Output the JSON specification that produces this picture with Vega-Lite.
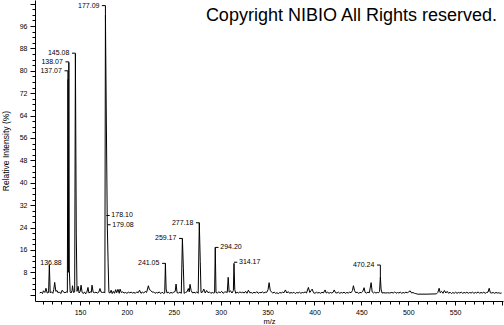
{
  "$schema": "https://vega.github.io/schema/vega-lite/v6.json",
  "width": 468,
  "height": 301,
  "autosize": {"type": "none"},
  "padding": {"left": 35, "top": 0, "right": 1, "bottom": 24},
  "background": "white",
  "config": {
    "view": {"stroke": null},
    "axis": {
      "grid": false,
      "domainColor": "black",
      "domainWidth": 1,
      "tickColor": "black",
      "tickWidth": 1,
      "labelColor": "black",
      "titleColor": "black",
      "labelFont": "Liberation Sans Narrow, Liberation Sans",
      "labelFontSize": 7,
      "titleFont": "Liberation Sans",
      "titleFontWeight": "normal",
      "labelOverlap": false,
      "labelBound": false,
      "labelFlush": false
    }
  },
  "title": {
    "text": "Copyright NIBIO All Rights reserved.",
    "anchor": "end",
    "frame": "group",
    "orient": "top",
    "offset": -39,
    "baseline": "alphabetic",
    "font": "Liberation Sans",
    "fontSize": 18,
    "fontWeight": "normal",
    "color": "black",
    "dx": -6
  },
  "datasets": {
    "spec": [
      {"mz":107.0,"i":0.6},{"mz":108.5,"i":0.9},{"mz":110.0,"i":0.4},{"mz":111.0,"i":1.4},{"mz":112.5,"i":0.8},{"mz":113.7,"i":2.3},{"mz":115.0,"i":0.6},{"mz":116.5,"i":0.8},{"mz":117.3,"i":10.6},{"mz":118.2,"i":0.7},{"mz":119.5,"i":1.0},{"mz":121.0,"i":0.5},{"mz":122.0,"i":1.8},{"mz":123.0,"i":4.4},{"mz":124.2,"i":1.2},{"mz":125.5,"i":1.5},{"mz":126.8,"i":0.6},{"mz":128.0,"i":1.0},{"mz":129.5,"i":0.4},{"mz":131.0,"i":1.6},{"mz":132.5,"i":0.9},{"mz":134.0,"i":0.7},{"mz":135.5,"i":1.0},{"mz":136.5,"i":0.8},
      {"mz":137.07,"i":77},{"mz":137.6,"i":8},{"mz":138.07,"i":83},{"mz":138.6,"i":8.8},{"mz":139.5,"i":1.0},{"mz":140.5,"i":0.6},{"mz":141.5,"i":1.5},{"mz":142.0,"i":3.2},{"mz":143.0,"i":0.8},{"mz":144.3,"i":1.0},{"mz":145.08,"i":86},{"mz":146.0,"i":21.7},{"mz":146.8,"i":1.2},{"mz":148.0,"i":3.0},{"mz":149.0,"i":0.6},{"mz":150.2,"i":1.2},{"mz":151.1,"i":3.4},{"mz":152.2,"i":0.9},{"mz":153.5,"i":0.4},{"mz":154.8,"i":1.0},{"mz":156.0,"i":0.3},{"mz":157.2,"i":0.8},{"mz":158.5,"i":2.6},{"mz":159.5,"i":0.6},{"mz":161.0,"i":1.0},{"mz":162.0,"i":0.8},{"mz":162.8,"i":3.4},{"mz":164.0,"i":0.9},{"mz":165.5,"i":0.7},{"mz":167.0,"i":0.9},{"mz":168.5,"i":0.6},{"mz":170.0,"i":0.9},{"mz":171.3,"i":2.2},{"mz":172.5,"i":0.9},{"mz":174.0,"i":0.8},{"mz":175.6,"i":0.9},{"mz":176.5,"i":0.7},
      {"mz":177.09,"i":100},{"mz":178.1,"i":61},{"mz":179.08,"i":25},{"mz":180.0,"i":11},{"mz":180.8,"i":0.8},{"mz":182.0,"i":0.6},{"mz":183.2,"i":1.6},{"mz":184.3,"i":0.4},{"mz":185.5,"i":1.2},{"mz":186.8,"i":0.5},{"mz":188.0,"i":1.8},{"mz":189.1,"i":0.7},{"mz":190.5,"i":1.9},{"mz":191.8,"i":0.5},{"mz":192.7,"i":2.0},{"mz":194.0,"i":0.8},{"mz":195.5,"i":1.0},{"mz":197.0,"i":0.6},{"mz":198.5,"i":0.8},{"mz":200.0,"i":0.5},{"mz":201.5,"i":0.9},{"mz":203.0,"i":0.7},{"mz":204.5,"i":0.9},{"mz":206.0,"i":0.6},{"mz":207.5,"i":0.8},{"mz":209.0,"i":0.5},{"mz":210.5,"i":1.0},{"mz":212.0,"i":0.7},{"mz":213.5,"i":1.6},{"mz":215.0,"i":0.5},{"mz":216.5,"i":0.9},{"mz":218.0,"i":0.6},{"mz":219.5,"i":1.2},{"mz":221.0,"i":0.8},{"mz":222.9,"i":3.2},{"mz":224.0,"i":1.8},{"mz":225.5,"i":1.5},{"mz":227.0,"i":0.9},{"mz":228.5,"i":1.0},{"mz":230.0,"i":0.5},{"mz":231.5,"i":0.8},{"mz":233.0,"i":0.6},{"mz":234.5,"i":1.0},{"mz":236.0,"i":0.4},{"mz":237.5,"i":0.9},{"mz":239.0,"i":0.5},{"mz":240.3,"i":0.6},
      {"mz":241.05,"i":11.2},{"mz":241.8,"i":2.0},{"mz":242.8,"i":0.6},{"mz":244.0,"i":0.9},{"mz":245.5,"i":0.5},{"mz":247.0,"i":0.8},{"mz":248.5,"i":0.6},{"mz":250.0,"i":0.9},{"mz":251.5,"i":1.2},{"mz":252.4,"i":3.8},{"mz":253.5,"i":0.7},{"mz":255.0,"i":0.6},{"mz":256.5,"i":0.9},{"mz":258.0,"i":0.5},{"mz":259.17,"i":20.1},{"mz":260.2,"i":9.5},{"mz":261.0,"i":0.5},{"mz":262.5,"i":0.8},{"mz":264.0,"i":1.0},{"mz":265.5,"i":2.2},{"mz":266.5,"i":1.0},{"mz":267.3,"i":3.7},{"mz":268.5,"i":1.5},{"mz":270.0,"i":0.6},{"mz":271.5,"i":0.9},{"mz":273.0,"i":0.6},{"mz":274.5,"i":1.0},{"mz":276.0,"i":0.5},{"mz":277.18,"i":25.7},{"mz":278.2,"i":11.8},{"mz":279.0,"i":0.8},{"mz":280.5,"i":0.9},{"mz":282.0,"i":2.0},{"mz":283.5,"i":0.6},{"mz":285.0,"i":1.5},{"mz":286.5,"i":0.7},{"mz":288.0,"i":1.0},{"mz":289.5,"i":0.5},{"mz":291.0,"i":0.8},{"mz":292.5,"i":0.6},{"mz":293.5,"i":0.7},{"mz":294.2,"i":16.9},{"mz":295.0,"i":0.8},{"mz":296.5,"i":0.6},{"mz":298.0,"i":1.0},{"mz":299.5,"i":0.7},
      {"mz":301.0,"i":1.2},{"mz":302.5,"i":0.5},{"mz":304.0,"i":0.9},{"mz":305.5,"i":1.0},{"mz":307.0,"i":0.8},{"mz":308.0,"i":6.2},{"mz":309.0,"i":0.9},{"mz":310.5,"i":1.4},{"mz":312.0,"i":0.6},{"mz":313.5,"i":1.5},{"mz":314.17,"i":11.2},{"mz":315.0,"i":1.8},{"mz":316.0,"i":0.5},{"mz":317.5,"i":0.9},{"mz":319.0,"i":0.6},{"mz":320.5,"i":1.0},{"mz":322.0,"i":0.7},{"mz":323.5,"i":0.9},{"mz":325.0,"i":0.6},{"mz":326.5,"i":1.2},{"mz":328.0,"i":0.5},{"mz":329.5,"i":1.6},{"mz":331.0,"i":0.7},{"mz":332.5,"i":0.8},{"mz":334.0,"i":0.5},{"mz":335.5,"i":0.9},{"mz":337.0,"i":0.6},{"mz":338.5,"i":1.1},{"mz":340.0,"i":0.5},{"mz":341.5,"i":0.8},{"mz":343.0,"i":0.7},{"mz":344.5,"i":1.0},{"mz":346.0,"i":0.6},{"mz":347.5,"i":0.9},{"mz":349.0,"i":0.8},{"mz":350.5,"i":1.8},{"mz":351.6,"i":4.3},{"mz":352.8,"i":1.6},{"mz":354.0,"i":1.0},{"mz":355.5,"i":0.6},{"mz":357.0,"i":0.9},{"mz":358.5,"i":0.5},{"mz":360.0,"i":0.7},{"mz":361.5,"i":0.4},{"mz":363.0,"i":0.8},{"mz":364.5,"i":0.6},{"mz":366.0,"i":0.9},{"mz":367.5,"i":0.7},{"mz":369.0,"i":1.7},{"mz":370.5,"i":0.6},{"mz":372.0,"i":1.1},{"mz":373.5,"i":0.5},{"mz":375.0,"i":0.8},{"mz":376.5,"i":0.6},{"mz":378.0,"i":0.9},{"mz":379.5,"i":0.4},{"mz":381.0,"i":0.8},{"mz":382.5,"i":0.6},{"mz":384.0,"i":0.9},{"mz":385.5,"i":0.5},{"mz":387.0,"i":0.8},{"mz":388.5,"i":0.7},{"mz":390.0,"i":1.0},{"mz":391.5,"i":0.6},{"mz":393.5,"i":2.6},{"mz":395.0,"i":0.8},{"mz":396.5,"i":1.5},{"mz":397.5,"i":2.0},{"mz":399.0,"i":0.7},
      {"mz":400.5,"i":0.5},{"mz":402.0,"i":0.9},{"mz":403.5,"i":0.6},{"mz":405.0,"i":0.8},{"mz":406.5,"i":0.5},{"mz":408.0,"i":0.9},{"mz":409.5,"i":0.6},{"mz":411.3,"i":1.7},{"mz":412.5,"i":0.6},{"mz":414.0,"i":0.9},{"mz":415.5,"i":0.5},{"mz":417.0,"i":0.8},{"mz":418.5,"i":0.6},{"mz":420.0,"i":0.9},{"mz":421.0,"i":1.7},{"mz":422.5,"i":0.7},{"mz":424.0,"i":0.6},{"mz":425.5,"i":0.9},{"mz":427.0,"i":0.5},{"mz":428.5,"i":0.8},{"mz":430.0,"i":0.6},{"mz":431.5,"i":0.9},{"mz":433.0,"i":0.5},{"mz":434.5,"i":0.8},{"mz":436.0,"i":0.6},{"mz":437.5,"i":0.9},{"mz":439.0,"i":0.7},{"mz":440.5,"i":1.5},{"mz":441.5,"i":3.2},{"mz":442.8,"i":1.4},{"mz":444.0,"i":0.7},{"mz":445.5,"i":0.9},{"mz":447.0,"i":0.5},{"mz":448.5,"i":0.8},{"mz":450.0,"i":0.7},{"mz":451.5,"i":1.2},{"mz":452.9,"i":2.5},{"mz":454.0,"i":0.8},{"mz":455.5,"i":0.6},{"mz":457.0,"i":0.9},{"mz":458.5,"i":0.7},{"mz":460.4,"i":4.3},{"mz":461.5,"i":1.0},{"mz":462.8,"i":0.6},{"mz":464.0,"i":0.9},{"mz":465.5,"i":0.6},{"mz":467.0,"i":0.8},{"mz":468.5,"i":0.7},{"mz":469.4,"i":1.2},{"mz":470.24,"i":6.4},{"mz":471.0,"i":2.0},{"mz":472.0,"i":0.6},{"mz":474.0,"i":0.7},{"mz":476.0,"i":0.6},{"mz":478.0,"i":0.7},{"mz":480.0,"i":0.6},{"mz":482.5,"i":0.8},{"mz":484.0,"i":0.6},{"mz":485.5,"i":1.0},{"mz":487.0,"i":0.5},{"mz":488.5,"i":0.8},{"mz":490.0,"i":0.6},{"mz":491.5,"i":0.9},{"mz":493.0,"i":0.5},{"mz":494.5,"i":0.8},{"mz":496.0,"i":0.6},{"mz":497.5,"i":0.9},{"mz":499.0,"i":0.7},
      {"mz":500.5,"i":1.0},{"mz":502.0,"i":1.4},{"mz":503.5,"i":0.6},{"mz":505.0,"i":0.8},{"mz":506.5,"i":0.5},{"mz":508.0,"i":0.4},{"mz":510.0,"i":0.2},{"mz":520.0,"i":0.2},{"mz":530.0,"i":0.3},{"mz":531.5,"i":0.8},{"mz":532.9,"i":2.3},{"mz":534.0,"i":0.7},{"mz":535.5,"i":1.2},{"mz":537.0,"i":0.5},{"mz":538.5,"i":1.5},{"mz":540.0,"i":0.6},{"mz":541.5,"i":1.2},{"mz":543.0,"i":0.5},{"mz":544.5,"i":0.9},{"mz":546.0,"i":0.4},{"mz":547.5,"i":0.8},{"mz":549.0,"i":0.5},{"mz":550.5,"i":0.9},{"mz":552.0,"i":0.5},{"mz":553.5,"i":0.8},{"mz":555.0,"i":0.6},{"mz":556.5,"i":0.9},{"mz":558.0,"i":0.5},{"mz":559.5,"i":0.8},{"mz":561.0,"i":0.6},{"mz":562.5,"i":0.9},{"mz":564.0,"i":0.5},{"mz":565.5,"i":0.8},{"mz":567.0,"i":0.6},{"mz":568.5,"i":0.9},{"mz":570.0,"i":0.5},{"mz":571.5,"i":0.8},{"mz":573.0,"i":0.6},{"mz":574.5,"i":1.0},{"mz":576.0,"i":0.5},{"mz":577.5,"i":0.8},{"mz":579.0,"i":0.6},{"mz":580.5,"i":0.9},{"mz":582.0,"i":0.5},{"mz":583.5,"i":0.8},{"mz":585.0,"i":0.9},{"mz":586.3,"i":2.3},{"mz":587.5,"i":0.7},{"mz":589.0,"i":0.6},{"mz":590.5,"i":0.8},{"mz":592.0,"i":0.5},{"mz":593.5,"i":0.8},{"mz":595.0,"i":0.6},{"mz":596.5,"i":0.7},{"mz":598.0,"i":0.5},{"mz":599.5,"i":0.6}
    ],
    "labels": [
      {"t":"136.88","mz":136.88,"top":11.3,"i":11.3,"tx":136.88,"side":"L"},
      {"t":"137.07","mz":137.07,"top":77,"i":80,"tx":133.5,"side":"L"},
      {"t":"138.07","mz":138.07,"top":83,"i":83.2,"tx":134.5,"side":"L"},
      {"t":"145.08","mz":145.08,"top":86,"i":86.3,"tx":141.5,"side":"L"},
      {"t":"177.09","mz":177.09,"top":100,"i":103.3,"tx":173.3,"side":"L"},
      {"t":"178.10","mz":178.1,"top":28.3,"i":28.3,"tx":181.6,"side":"R"},
      {"t":"179.08","mz":179.08,"top":25,"i":25,"tx":182.6,"side":"R"},
      {"t":"241.05","mz":241.05,"top":11.2,"i":11.2,"tx":237.5,"side":"L"},
      {"t":"259.17","mz":259.17,"top":20.1,"i":20.1,"tx":255.6,"side":"L"},
      {"t":"277.18","mz":277.18,"top":25.7,"i":25.7,"tx":273.6,"side":"L"},
      {"t":"294.20","mz":294.2,"top":16.9,"i":16.9,"tx":297.7,"side":"R"},
      {"t":"314.17","mz":314.17,"top":11.6,"i":11.6,"tx":317.7,"side":"R"},
      {"t":"470.24","mz":470.24,"top":6.4,"i":10.6,"tx":466.7,"side":"L"}
    ]
  },
  "encoding": {
    "x": {
      "field": "mz", "type": "quantitative",
      "scale": {"domain": [102, 601], "nice": false, "zero": false},
      "axis": {
        "title": "m/z",
        "titleFontSize": 7.5,
        "titlePadding": 2,
        "labelOverlap": false,
        "values": [110,120,130,140,150,160,170,180,190,200,210,220,230,240,250,260,270,280,290,300,310,320,330,340,350,360,370,380,390,400,410,420,430,440,450,460,470,480,490,500,510,520,530,540,550,560,570,580,590,600],
        "labelExpr": "datum.value % 50 === 0 && datum.value < 600 ? datum.label : ''",
        "tickSize": {"condition": {"test": "datum.value % 50 === 0", "value": 4}, "value": 3},
        "labelPadding": 3
      }
    },
    "y": {
      "field": "i", "type": "quantitative",
      "scale": {"domain": [-2.25, 105.3], "nice": false, "zero": false},
      "axis": {
        "title": "Relative Intensity (%)",
        "titleFontSize": 8.5,
        "titlePadding": 9,
        "labelOverlap": false,
        "values": [0,2,4,6,8,10,12,14,16,18,20,22,24,26,28,30,32,34,36,38,40,42,44,46,48,50,52,54,56,58,60,62,64,66,68,70,72,74,76,78,80,82,84,86,88,90,92,94,96,98,100,102,104],
        "labelExpr": "datum.value % 8 === 0 && datum.value > 0 && datum.value < 100 ? datum.label : ''",
        "tickSize": {"condition": {"test": "datum.value % 8 === 0", "value": 5}, "value": 3},
        "labelPadding": 3
      }
    }
  },
  "layer": [
    {
      "data": {"name": "spec"},
      "mark": {"type": "line", "color": "black", "strokeWidth": 1}
    },
    {
      "data": {"name": "labels"},
      "mark": {"type": "rule", "color": "black", "strokeWidth": 1},
      "encoding": {
        "y2": {"field": "top"}
      }
    },
    {
      "data": {"name": "labels"},
      "mark": {"type": "rule", "color": "black", "strokeWidth": 1},
      "encoding": {
        "x2": {"field": "tx"}
      }
    },
    {
      "data": {"name": "labels"},
      "transform": [{"filter": "datum.side === 'L'"}],
      "mark": {"type": "text", "align": "right", "baseline": "middle", "dx": -6, "font": "Liberation Sans", "fontSize": 7, "fill": "black"},
      "encoding": {
        "text": {"field": "t", "type": "nominal"}
      }
    },
    {
      "data": {"name": "labels"},
      "transform": [{"filter": "datum.side === 'R'"}],
      "mark": {"type": "text", "align": "left", "baseline": "middle", "dx": 5, "font": "Liberation Sans", "fontSize": 7, "fill": "black"},
      "encoding": {
        "text": {"field": "t", "type": "nominal"}
      }
    }
  ]
}
